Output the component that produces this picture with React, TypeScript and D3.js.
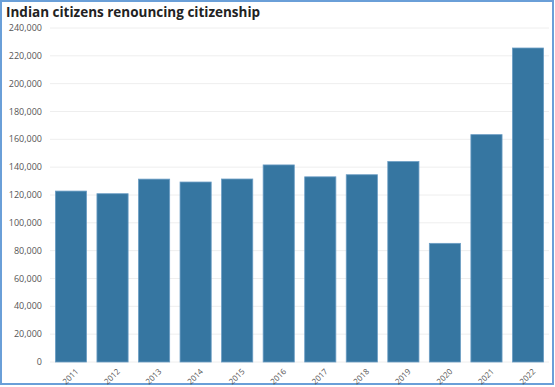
import React from "react";
import * as d3 from "d3";

const years = ["2011","2012","2013","2014","2015","2016","2017","2018","2019","2020","2021","2022"];
const renunciations = [122819,120923,131405,129328,131489,141603,133049,134561,144017,85256,163370,225620];
const yTicks = [0,20000,40000,60000,80000,100000,120000,140000,160000,180000,200000,220000,240000];
const title = "Indian citizens renouncing citizenship";

export default function App() {
  const W = 555, H = 387;
  const left = 50, right = 549, top = 28, bottom = 362;
  const x = d3.scaleBand<string>().domain(years).range([left, right]).paddingInner(0.25).paddingOuter(0.13);
  const y = d3.scaleLinear().domain([0, 240000]).range([bottom, top]);
  const fmt = d3.format(",");
  const font = "'Open Sans', 'Noto Sans', sans-serif";
  return (
    <svg width={W} height={H} style={{ position: "absolute", left: 0, top: 0 }} fontFamily={font}>
      <rect x={0} y={0} width={W} height={H} fill="#fff" />
      <rect x={1} y={1} width={552} height={383} fill="none" stroke="#6a9fd8" strokeWidth={2} />
      <text x={6} y={17} fontSize={13.5} fontWeight={700} fill="#222">{title}</text>
      {yTicks.map(t => (
        <g key={t}>
          <line x1={left} x2={right} y1={y(t)} y2={y(t)} stroke="#eeeeee" strokeWidth={1} />
          <text x={42} y={y(t)} dy="0.35em" textAnchor="end" fontSize={9} fill="#555">{fmt(t)}</text>
        </g>
      ))}
      {years.map((yr, i) => (
        <rect key={yr} x={x(yr)} y={y(renunciations[i])} width={x.bandwidth()} height={bottom - y(renunciations[i])}
          fill="#3676a1" stroke="#6b9dc4" strokeWidth={0.8} />
      ))}
      {years.map(yr => {
        const cx = (x(yr) as number) + x.bandwidth() / 2 + 4;
        return (
          <text key={yr} transform={`translate(${cx},${bottom + 6}) rotate(-45)`} textAnchor="end" dy="0.7em" fontSize={8} fill="#555">{yr}</text>
        );
      })}
    </svg>
  );
}
